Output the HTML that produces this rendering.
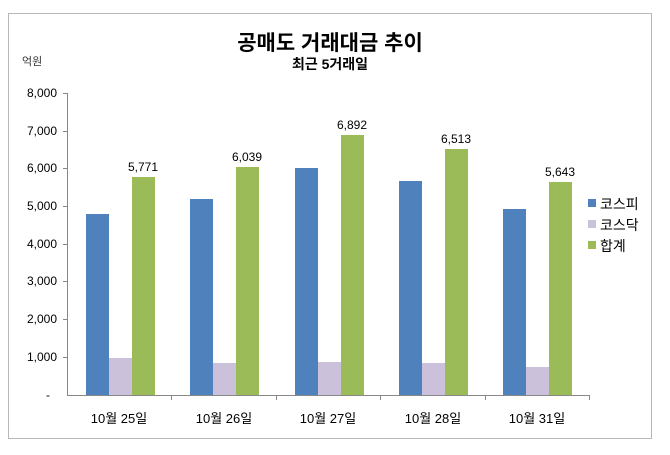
<!DOCTYPE html>
<html><head><meta charset="utf-8"><style>
body{margin:0;background:#fff;}
svg text{font-family:"Liberation Sans","Noto Sans CJK KR",sans-serif;}
</style></head><body>
<svg width="670" height="450" xmlns="http://www.w3.org/2000/svg">
<rect x="0" y="0" width="670" height="450" fill="#fff"/>
<rect x="8.5" y="13.5" width="643" height="425" fill="none" stroke="#b8b8b8"/>
<text x="330" y="50" text-anchor="middle" font-size="21" font-weight="bold" fill="#000">공매도 거래대금 추이</text>
<text x="330" y="69" text-anchor="middle" font-size="14" font-weight="bold" fill="#000">최근 5거래일</text>
<text x="22" y="65" font-size="11" fill="#333">억원</text>
<g font-size="12" fill="#000" text-anchor="end">
<text x="57" y="97">8,000</text>
<text x="57" y="135">7,000</text>
<text x="57" y="172">6,000</text>
<text x="57" y="210">5,000</text>
<text x="57" y="248">4,000</text>
<text x="57" y="285">3,000</text>
<text x="57" y="323">2,000</text>
<text x="57" y="361">1,000</text>
<text x="50" y="399">-</text>
</g>
<g stroke="#888" stroke-width="1">
<line x1="67.5" y1="93" x2="67.5" y2="395"/>
<line x1="63" y1="93.5" x2="67" y2="93.5"/>
<line x1="63" y1="131.5" x2="67" y2="131.5"/>
<line x1="63" y1="168.5" x2="67" y2="168.5"/>
<line x1="63" y1="206.5" x2="67" y2="206.5"/>
<line x1="63" y1="244.5" x2="67" y2="244.5"/>
<line x1="63" y1="281.5" x2="67" y2="281.5"/>
<line x1="63" y1="319.5" x2="67" y2="319.5"/>
<line x1="63" y1="357.5" x2="67" y2="357.5"/>
<line x1="67" y1="395.5" x2="590" y2="395.5"/>
<line x1="171.5" y1="395" x2="171.5" y2="400"/>
<line x1="276.5" y1="395" x2="276.5" y2="400"/>
<line x1="380.5" y1="395" x2="380.5" y2="400"/>
<line x1="485.5" y1="395" x2="485.5" y2="400"/>
<line x1="589.5" y1="395" x2="589.5" y2="400"/>
</g>
<g>
<rect x="86" y="214" width="23" height="181" fill="#4f81bd"/>
<rect x="109" y="358" width="23" height="37" fill="#ccc1da"/>
<rect x="132" y="177" width="23" height="218" fill="#9bbb59"/>
<rect x="190" y="199" width="23" height="196" fill="#4f81bd"/>
<rect x="213" y="363" width="23" height="32" fill="#ccc1da"/>
<rect x="236" y="167" width="23" height="228" fill="#9bbb59"/>
<rect x="295" y="168" width="23" height="227" fill="#4f81bd"/>
<rect x="318" y="362" width="23" height="33" fill="#ccc1da"/>
<rect x="341" y="135" width="23" height="260" fill="#9bbb59"/>
<rect x="399" y="181" width="23" height="214" fill="#4f81bd"/>
<rect x="422" y="363" width="23" height="32" fill="#ccc1da"/>
<rect x="445" y="149" width="23" height="246" fill="#9bbb59"/>
<rect x="503" y="209" width="23" height="186" fill="#4f81bd"/>
<rect x="526" y="367" width="23" height="28" fill="#ccc1da"/>
<rect x="549" y="182" width="23" height="213" fill="#9bbb59"/>
</g>
<g font-size="12" fill="#000" text-anchor="middle">
<text x="143" y="171">5,771</text>
<text x="247" y="161">6,039</text>
<text x="352" y="129">6,892</text>
<text x="456" y="143">6,513</text>
<text x="560" y="176">5,643</text>
</g>
<g font-size="13" fill="#000" text-anchor="middle">
<text x="119" y="423">10월 25일</text>
<text x="224" y="423">10월 26일</text>
<text x="328" y="423">10월 27일</text>
<text x="433" y="423">10월 28일</text>
<text x="537" y="423">10월 31일</text>
</g>
<rect x="588" y="199" width="8" height="8" fill="#4f81bd"/>
<rect x="588" y="220" width="8" height="8" fill="#ccc1da"/>
<rect x="588" y="241" width="8" height="8" fill="#9bbb59"/>
<g font-size="14" fill="#000">
<text x="600" y="209">코스피</text>
<text x="600" y="230">코스닥</text>
<text x="600" y="251">합계</text>
</g>
</svg>
</body></html>
